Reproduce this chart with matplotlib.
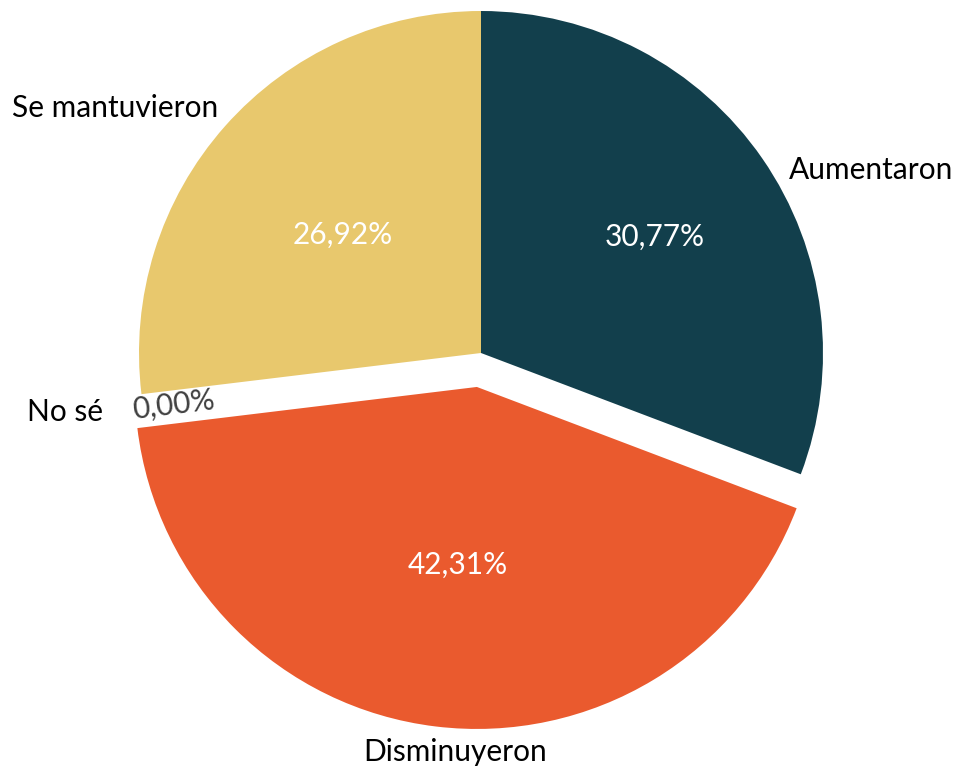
import matplotlib.pyplot as plt

labels = ["Aumentaron", "Disminuyeron", "No sé", "Se mantuvieron"]
values = [30.77, 42.31, 0.00, 26.92]
colors = ["#123F4C", "#EA5A2E", "#FFFFFF", "#E8C86D"]
explode = [0, 0.1, 0.1, 0]

# label positions (data units, radius = 1)
label_pos = [(1.14, 0.535), (-0.076, -1.167), (-1.216, -0.173), (-1.07, 0.716)]
pct_pos = [(0.509, 0.339), (-0.067, -0.62), (-0.9, -0.152), (-0.404, 0.345)]

plt.rcParams['font.family'] = ['Lato', 'DejaVu Sans']

fig = plt.figure(figsize=(9.58, 7.7), dpi=100)
ax = fig.add_axes([0, 0, 1, 1])

wedges, texts, autotexts = ax.pie(
    values, labels=labels, colors=colors, explode=explode,
    startangle=90, counterclock=False,
    autopct=lambda p: f"{p:.2f}%".replace(".", ","),
    wedgeprops=dict(linewidth=0),
)

for t, pos in zip(texts, label_pos):
    t.set_position(pos)
    t.set_ha("center")
    t.set_va("center")
    t.set_fontsize(21.5)
    t.set_color("black")

for i, (t, pos) in enumerate(zip(autotexts, pct_pos)):
    t.set_position(pos)
    t.set_ha("center")
    t.set_va("center")
    t.set_fontsize(21.5)
    t.set_color("white")
    if values[i] == 0:
        t.set_color("#404040")
        t.set_rotation(7)

ax.set_xlim(-481 / 342, (958 - 481) / 342)
ax.set_ylim(-417 / 342, (770 - 417) / 342)
ax.axis("off")

plt.savefig("out.png", dpi=100)
plt.close()
